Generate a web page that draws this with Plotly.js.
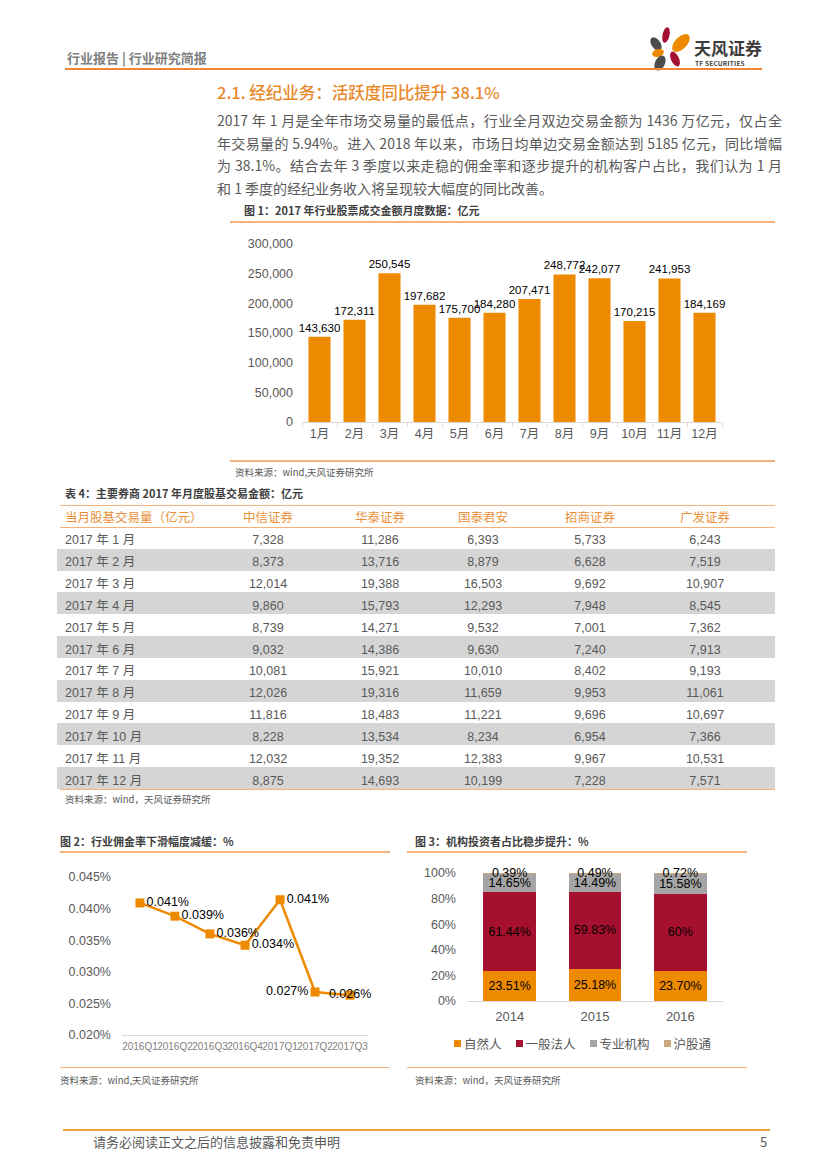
<!DOCTYPE html>
<html>
<head>
<meta charset="utf-8">
<script src="https://cdn.plot.ly/plotly-3.0.1.min.js"></script>
<style>
  body { margin: 0; background: #fff; }
  #page { position: relative; width: 827px; height: 1169px; overflow: hidden; background: #fff;
          font-family: "Noto Sans CJK SC", "Liberation Sans", sans-serif; }
  .t { position: absolute; white-space: nowrap; line-height: 20px; height: 20px; }
  .ln { position: absolute; height: 1.5px; background: #F5B27C; }
  .ttl { font-size: 11px; font-weight: bold; color: #404040; }
  .src { font-size: 9.5px; color: #595959; }
  .plot { position: absolute; }
  #para { position: absolute; left: 217px; top: 109px; width: 565px; font-size: 14px; line-height: 22.5px; color: #595959; }
  #para div { white-space: nowrap; }
  #para .j { text-align: justify; text-align-last: justify; white-space: normal; }
  #legend3 { position: absolute; left: 454px; top: 1034px; height: 18px; display: flex; align-items: center;
             font-size: 12.5px; color: #595959; }
  #legend3 .it { display: flex; align-items: center; margin-right: 14px; }
  #legend3 .sw { width: 7px; height: 7px; margin-right: 3px; }
</style>
</head>
<body>
<div id="page">
  <!-- header -->
  <div class="t" style="left:67px;top:48px;font-size:13px;font-weight:bold;color:#808080;">行业报告 | 行业研究简报</div>
  <svg style="position:absolute;left:648px;top:24px;" width="46" height="50" viewBox="0 0 46 50">
    <ellipse cx="18" cy="11" rx="3.5" ry="8" fill="#A6102F" transform="rotate(12 18 11)"/>
    <ellipse cx="33" cy="19" rx="6" ry="11" fill="#EE8A00" transform="rotate(45 33 19)"/>
    <ellipse cx="8" cy="20" rx="4.5" ry="7.5" fill="#4D4D4D" transform="rotate(-35 8 20)"/>
    <ellipse cx="10" cy="29" rx="6" ry="3.8" fill="#EE8A00" transform="rotate(-15 10 29)"/>
    <ellipse cx="27" cy="35" rx="4" ry="8" fill="#A6102F" transform="rotate(-25 27 35)"/>
    <ellipse cx="12" cy="39" rx="5" ry="8" fill="#4D4D4D" transform="rotate(25 12 39)"/>
  </svg>
  <div class="t" style="left:694px;top:39px;height:18px;line-height:18px;font-size:17px;font-weight:bold;color:#3d3d3d;">天风证券</div>
  <div class="t" style="left:695px;top:60px;height:7px;line-height:7px;font-size:6.5px;font-weight:bold;color:#3d3d3d;letter-spacing:0.2px;">TF SECURITIES</div>
  <div class="ln" style="left:65px;top:68px;width:697px;height:2px;background:#EF8535;"></div>

  <div class="t" style="left:217px;top:82px;font-size:16.5px;font-weight:500;color:#E8892B;">2.1. 经纪业务：活跃度同比提升 38.1%</div>

  <div id="para">
    <div class="j">2017 年 1 月是全年市场交易量的最低点，行业全月双边交易金额为 1436 万亿元，仅占全</div>
    <div class="j">年交易量的 5.94%。进入 2018 年以来，市场日均单边交易金额达到 5185 亿元，同比增幅</div>
    <div class="j">为 38.1%。结合去年 3 季度以来走稳的佣金率和逐步提升的机构客户占比，我们认为 1 月</div>
    <div>和 1 季度的经纪业务收入将呈现较大幅度的同比改善。</div>
  </div>

  <!-- chart 1 -->
  <div class="t ttl" style="left:244px;top:200px;">图 1：2017 年行业股票成交金额月度数据：亿元</div>
  <div id="chart1" class="plot" style="left:230px;top:222px;width:545px;height:240px;"></div>
  <div class="ln" style="left:230px;top:221px;width:545px;"></div>
  <div class="ln" style="left:230px;top:460px;width:545px;"></div>
  <div class="t src" style="left:235px;top:462px;">资料来源：wind,天风证券研究所</div>

  <!-- table -->
  <div class="t ttl" style="left:65px;top:483px;">表 4：主要券商 2017 年月度股基交易金额：亿元</div>
  <div id="table4" class="plot" style="left:57px;top:505px;width:718px;height:290px;"></div>
  <div class="ln" style="left:60px;top:504.5px;width:715px;"></div>
  <div class="ln" style="left:60px;top:526.5px;width:715px;"></div>
  <div class="ln" style="left:60px;top:788.5px;width:715px;"></div>
  <div class="t src" style="left:65px;top:789px;">资料来源：wind，天风证券研究所</div>

  <!-- chart 2 -->
  <div class="t ttl" style="left:60px;top:831px;">图 2：行业佣金率下滑幅度减缓：%</div>
  <div id="chart2" class="plot" style="left:60px;top:855px;width:330px;height:210px;"></div>
  <div class="ln" style="left:60px;top:851px;width:330px;"></div>
  <div class="ln" style="left:60px;top:1066.5px;width:330px;"></div>
  <div class="t src" style="left:60px;top:1070px;">资料来源：wind,天风证券研究所</div>

  <!-- chart 3 -->
  <div class="t ttl" style="left:415px;top:831px;">图 3：机构投资者占比稳步提升：%</div>
  <div id="chart3" class="plot" style="left:405px;top:855px;width:342px;height:210px;"></div>
  <div id="legend3"></div>
  <div class="ln" style="left:407px;top:851px;width:340px;"></div>
  <div class="ln" style="left:407px;top:1066.5px;width:340px;"></div>
  <div class="t src" style="left:415px;top:1070px;">资料来源：wind，天风证券研究所</div>

  <!-- footer -->
  <div class="ln" style="left:63px;top:1129px;width:707px;height:2px;background:#E8A33D;"></div>
  <div class="t" style="left:93px;top:1132px;font-size:13px;color:#595959;">请务必阅读正文之后的信息披露和免责申明</div>
  <div class="t" style="left:760px;top:1132px;font-size:13px;color:#595959;">5</div>
</div>

<script>
// ---------- data ----------
const months = ['1月','2月','3月','4月','5月','6月','7月','8月','9月','10月','11月','12月'];
const monthlyTurnover = [143630,172311,250545,197682,175700,184280,207471,248772,242077,170215,241953,184169];

const tableHeaders = ['当月股基交易量（亿元）','中信证券','华泰证券','国泰君安','招商证券','广发证券'];
const tableMonths = ['2017 年 1 月','2017 年 2 月','2017 年 3 月','2017 年 4 月','2017 年 5 月','2017 年 6 月',
                     '2017 年 7 月','2017 年 8 月','2017 年 9 月','2017 年 10 月','2017 年 11 月','2017 年 12 月'];
const citic   = [7328,8373,12014,9860,8739,9032,10081,12026,11816,8228,12032,8875];
const huatai  = [11286,13716,19388,15793,14271,14386,15921,19316,18483,13534,19352,14693];
const gtja    = [6393,8879,16503,12293,9532,9630,10010,11659,11221,8234,12383,10199];
const cms     = [5733,6628,9692,7948,7001,7240,8402,9953,9696,6954,9967,7228];
const gf      = [6243,7519,10907,8545,7362,7913,9193,11061,10697,7366,10531,7571];

const quarters = ['2016Q1','2016Q2','2016Q3','2016Q4','2017Q1','2017Q2','2017Q3'];
const commissionRate = [0.0409,0.0388,0.0360,0.0342,0.0414,0.0268,0.0263];

const years = ['2014','2015','2016'];
const investorNames = ['自然人','一般法人','专业机构','沪股通'];
const individual   = [23.51,25.18,23.70];
const generalCorp  = [61.44,59.83,60];
const professional = [14.65,14.49,15.58];
const shConnect    = [0.39,0.49,0.72];

// ---------- styles ----------
const FONT = 'Liberation Sans, Arial, Noto Sans CJK SC, sans-serif';
const ORANGE = '#EE8A00';
const investorColors = [ORANGE, '#A6102F', '#A5A5A5', '#C8A87C'];
const cfg = {staticPlot: true, displayModeBar: false};
const fmt = v => v.toLocaleString('en-US');

// ---------- chart 1 ----------
Plotly.newPlot('chart1', [{
  type: 'bar', x: months, y: monthlyTurnover,
  marker: {color: ORANGE},
  text: monthlyTurnover.map(fmt), textposition: 'outside',
  textfont: {family: FONT, size: 11.5, color: '#000'},
  constraintext: 'none', cliponaxis: false
}], {
  width: 545, height: 240, margin: {l: 72, r: 53, t: 22, b: 40},
  paper_bgcolor: 'rgba(0,0,0,0)', plot_bgcolor: 'rgba(0,0,0,0)',
  bargap: 0.37, showlegend: false,
  font: {family: FONT, size: 12, color: '#595959'},
  xaxis: {type: 'category', showline: true, linecolor: '#d9d9d9', linewidth: 1, tickangle: 0,
          ticks: 'outside', tickson: 'boundaries', ticklen: 4, tickcolor: '#d9d9d9',
          tickfont: {family: FONT, size: 12.5, color: '#595959'}, showgrid: false, zeroline: false},
  yaxis: {range: [0, 300000], dtick: 50000, tickformat: ',d', showgrid: false, zeroline: false,
          showline: false, ticks: '', ticklabelstandoff: 8,
          tickfont: {family: FONT, size: 12.5, color: '#595959'}}
}, cfg);

// ---------- table ----------
const nb = s => s.replace(/ /g, '\u00A0');
const cols = [tableMonths.map(nb), citic.map(fmt), huatai.map(fmt), gtja.map(fmt), cms.map(fmt), gf.map(fmt),
              tableMonths.map(() => '')];
const rowFill = tableMonths.map((m, i) => i % 2 === 1 ? '#D5D5D5' : '#FFFFFF');
const TFONT = 'Liberation Sans Narrow, Liberation Sans, Noto Sans CJK SC, sans-serif';
Plotly.newPlot('table4', [{
  type: 'table',
  columnwidth: [151, 120, 104, 102, 112, 118, 11],
  header: {
    values: tableHeaders.concat(['']),
    align: ['left', 'center', 'center', 'center', 'center', 'center', 'center'],
    height: 22,
    fill: {color: '#FFFFFF'},
    line: {color: 'rgba(0,0,0,0)', width: 0},
    font: {family: TFONT, size: 12.5, color: '#E8913A'}
  },
  cells: {
    values: cols,
    align: ['left', 'center', 'center', 'center', 'center', 'center', 'center'],
    height: 21.83,
    fill: {color: cols.map(() => rowFill)},
    line: {color: 'rgba(0,0,0,0)', width: 0},
    font: {family: TFONT, size: 12.5, color: '#595959'}
  }
}], {
  width: 718, height: 290, margin: {l: 0, r: 0, t: 0, b: 0},
  paper_bgcolor: 'rgba(0,0,0,0)'
}, cfg);

// ---------- chart 2 ----------
Plotly.newPlot('chart2', [{
  type: 'scatter', mode: 'lines+markers+text', x: quarters, y: commissionRate,
  line: {color: ORANGE, width: 2.5},
  marker: {symbol: 'square', size: 9, color: ORANGE},
  texttemplate: '%{y:.3f}%',
  textposition: ['middle right','middle right','middle right','middle right','middle right','middle left','middle center'],
  textfont: {family: FONT, size: 12.5, color: '#000'},
  cliponaxis: false
}], {
  width: 330, height: 210, margin: {l: 62, r: 22, t: 22, b: 30},
  paper_bgcolor: 'rgba(0,0,0,0)', plot_bgcolor: 'rgba(0,0,0,0)',
  showlegend: false, font: {family: FONT, size: 12, color: '#595959'},
  xaxis: {type: 'category', showline: true, linecolor: '#d9d9d9', ticks: '', tickangle: 0,
          tickfont: {family: FONT, size: 10, color: '#808080'}, showgrid: false, zeroline: false,
          ticklabelstandoff: 2},
  yaxis: {range: [0.02, 0.045], dtick: 0.005, tickformat: '.3f', ticksuffix: '%', showgrid: false,
          zeroline: false, showline: false, ticks: '', ticklabelstandoff: 10,
          tickfont: {family: FONT, size: 12.5, color: '#595959'}}
}, cfg);

// ---------- chart 3 ----------
const pct = v => (Number.isInteger(v) ? String(v) : v.toFixed(2)) + '%';
const investorSeries = [individual, generalCorp, professional, shConnect];
Plotly.newPlot('chart3', investorSeries.map((s, i) => ({
  type: 'bar', name: investorNames[i], x: years, y: s,
  marker: {color: investorColors[i]},
  text: s.map(pct), textposition: 'inside', insidetextanchor: 'middle', textangle: 0,
  textfont: {family: FONT, size: 12.5, color: '#000'}, constraintext: 'none', cliponaxis: false
})), {
  width: 342, height: 210, margin: {l: 62, r: 24, t: 18, b: 64},
  paper_bgcolor: 'rgba(0,0,0,0)', plot_bgcolor: 'rgba(0,0,0,0)',
  barmode: 'stack', bargap: 0.38, showlegend: false,
  uniformtext: {mode: 'show', minsize: 12.5},
  font: {family: FONT, size: 12, color: '#595959'},
  xaxis: {type: 'category', showline: true, linecolor: '#d9d9d9', ticks: '', ticklabelstandoff: 3,
          tickfont: {family: FONT, size: 13, color: '#595959'}, showgrid: false, zeroline: false},
  yaxis: {range: [0, 100], dtick: 20, ticksuffix: '%', showgrid: false, zeroline: false,
          showline: false, ticks: '', ticklabelstandoff: 10,
          tickfont: {family: FONT, size: 12.5, color: '#595959'}}
}, cfg);

// legend for chart 3 (built from series names/colors)
const lg = document.getElementById('legend3');
investorNames.forEach((n, i) => {
  const it = document.createElement('div'); it.className = 'it';
  const sw = document.createElement('div'); sw.className = 'sw'; sw.style.background = investorColors[i];
  const tx = document.createElement('span'); tx.textContent = n;
  it.appendChild(sw); it.appendChild(tx); lg.appendChild(it);
});
</script>
</body>
</html>
